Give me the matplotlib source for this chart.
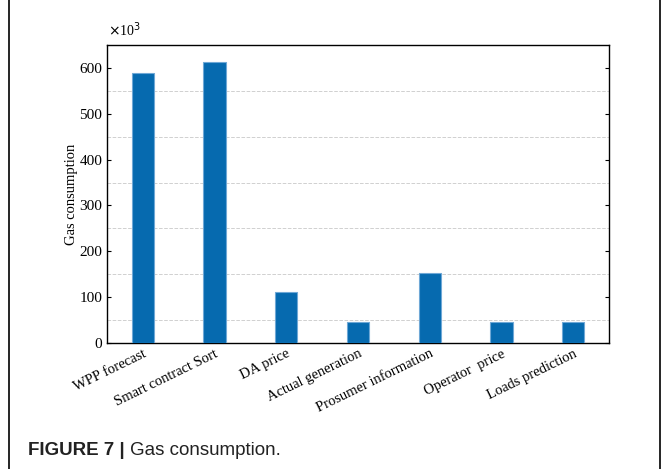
import matplotlib
matplotlib.use("Agg")
import matplotlib.pyplot as plt
from matplotlib.patches import Rectangle

# gas used per contract function (x10^3)
categories = ["WPP forecast", "Smart contract Sort", "DA price", "Actual generation",
              "Prosumer information", "Operator  price", "Loads prediction"]
gas = [590, 612, 111, 45, 153, 45, 46]
yticks = [0, 100, 200, 300, 400, 500, 600]
minor_grid = [50, 150, 250, 350, 450, 550]

plt.rcParams['font.family'] = ['Liberation Serif', 'DejaVu Serif']

fig = plt.figure(figsize=(6.64, 4.69), dpi=100)
ax = fig.add_axes([107 / 664, 1 - 343 / 469, 502 / 664, 298 / 469])

x = list(range(len(categories)))
ax.bar(x, gas, width=0.31, color='#066aaf', edgecolor='#6fa8d6', linewidth=0.8, zorder=3)

ax.set_xlim(-0.5, len(categories) - 0.5)
ax.set_ylim(0, 650)
ax.set_yticks(yticks)
ax.set_yticks(minor_grid, minor=True)
ax.yaxis.grid(True, which='minor', linestyle='--', color='#d0d0d0', linewidth=0.7, zorder=0)
ax.tick_params(axis='y', which='major', direction='in', right=True, labelsize=11, length=3)
ax.tick_params(axis='y', which='minor', length=0)
ax.tick_params(axis='x', length=0, labelsize=10.5, pad=3)
ax.set_xticks(x)
ax.set_xticklabels(categories, rotation=26, ha='right', rotation_mode='anchor')
ax.set_ylabel("Gas consumption", fontsize=10.5)
ax.yaxis.set_label_coords(-29 / 502, 0.5)
for s in ax.spines.values():
    s.set_linewidth(1.0)

fig.text(108 / 664, 1 - 30 / 469, r"$\times$10$^3$", fontsize=10, va='center', ha='left')

# outer frame and caption
fig.patches.append(Rectangle((9 / 664, -0.05), 651 / 664, 1.1, transform=fig.transFigure,
                             fill=False, edgecolor='black', linewidth=1.2))
fig.text(28 / 664, 1 - 450 / 469, "FIGURE 7 |", fontsize=13.5, fontweight='bold',
         family='Liberation Sans', va='center', ha='left', color='#222222')
fig.text(130 / 664, 1 - 450 / 469, "Gas consumption.", fontsize=13.5,
         family='Liberation Sans', va='center', ha='left', color='#222222')

fig.savefig("out.png", dpi=100)
